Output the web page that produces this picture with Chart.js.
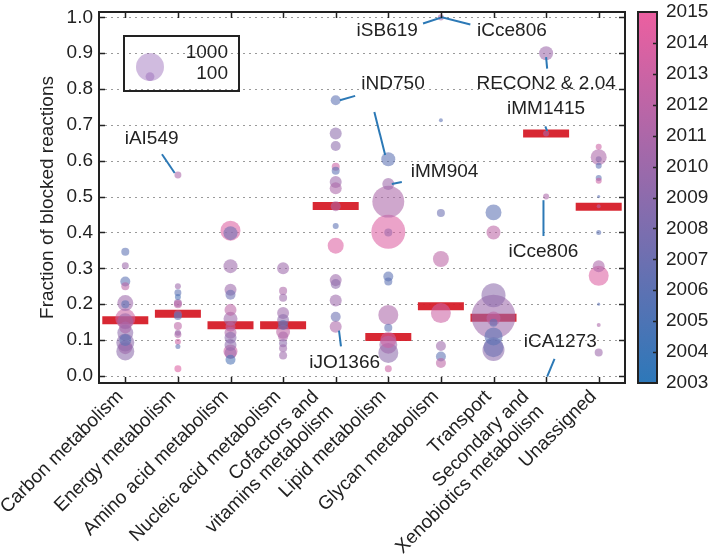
<!DOCTYPE html>
<html><head><meta charset="utf-8">
<script src="https://cdn.jsdelivr.net/npm/chart.js@4.4.1/dist/chart.umd.min.js"></script>
<style>html,body{margin:0;padding:0;background:#fff}canvas{display:block}</style>
</head><body>
<canvas id="c" width="708" height="557"></canvas>
<script>
// ---------- data ----------
const CATEGORIES = [
  ['Carbon metabolism'], ['Energy metabolism'], ['Amino acid metabolism'],
  ['Nucleic acid metabolism'], ['Cofactors and', 'vitamins metabolism'],
  ['Lipid metabolism'], ['Glycan metabolism'], ['Transport'],
  ['Secondary and', 'Xenobiotics metabolism'], ['Unassigned']
];
const Y_TICKS = [0.0, 0.1, 0.2, 0.3, 0.4, 0.5, 0.6, 0.7, 0.8, 0.9, 1.0];
const YEAR_TICKS = [2003, 2004, 2005, 2006, 2007, 2008, 2009, 2010, 2011, 2012, 2013, 2014, 2015];
const MEDIANS = [0.155, 0.173, 0.141, 0.141, 0.474, 0.108, 0.194, 0.162, 0.676, 0.472];
const LEGEND_SIZES = [1000, 100];

// fraction of blocked reactions, number of reactions, publication year
const carbonFrac = [0.346, 0.307, 0.263, 0.250, 0.203, 0.200, 0.160, 0.152, 0.135, 0.120, 0.100, 0.093, 0.080, 0.068];
const carbonRxn  = [82, 62, 128, 82, 326, 82, 510, 326, 184, 326, 184, 413, 250, 413];
const carbonYear = [2006, 2010, 2006, 2012, 2010, 2006, 2013, 2010, 2011, 2009, 2006, 2009, 2010, 2009];

const energyFrac = [0.560, 0.250, 0.232, 0.220, 0.203, 0.200, 0.172, 0.167, 0.139, 0.120, 0.115, 0.095, 0.082, 0.020];
const energyRxn  = [62, 46, 62, 46, 82, 82, 82, 82, 82, 46, 62, 46, 32, 62];
const energyYear = [2011, 2010, 2006, 2005, 2010, 2012, 2010, 2006, 2012, 2010, 2011, 2013, 2006, 2014];

const aminoFrac = [0.405, 0.398, 0.306, 0.240, 0.226, 0.184, 0.159, 0.137, 0.120, 0.106, 0.086, 0.068, 0.064, 0.045];
const aminoRxn  = [510, 250, 250, 184, 128, 184, 250, 128, 184, 184, 184, 250, 184, 128];
const aminoYear = [2014, 2007, 2010, 2010, 2007, 2012, 2010, 2012, 2011, 2009, 2009, 2013, 2010, 2005];

const nucleicFrac = [0.300, 0.237, 0.218, 0.175, 0.156, 0.142, 0.123, 0.110, 0.091, 0.077, 0.057];
const nucleicRxn  = [184, 82, 82, 184, 184, 128, 250, 128, 82, 82, 82];
const nucleicYear = [2010, 2011, 2010, 2010, 2009, 2006, 2012, 2011, 2009, 2010, 2010];

const cofactorFrac = [0.769, 0.676, 0.641, 0.583, 0.572, 0.541, 0.523, 0.473, 0.418, 0.363, 0.267, 0.256, 0.210, 0.165, 0.137];
const cofactorRxn  = [128, 184, 128, 82, 82, 184, 184, 128, 46, 326, 184, 128, 184, 128, 184];
const cofactorYear = [2006, 2009, 2009, 2013, 2006, 2010, 2011, 2011, 2006, 2014, 2010, 2009, 2010, 2007, 2011];

const lipidFrac = [0.604, 0.535, 0.486, 0.402, 0.400, 0.277, 0.263, 0.170, 0.134, 0.100, 0.087, 0.064, 0.020];
const lipidRxn  = [250, 184, 1300, 1475, 82, 128, 82, 510, 82, 326, 413, 510, 62];
const lipidYear = [2006, 2010, 2011, 2014, 2010, 2006, 2006, 2011, 2006, 2013, 2010, 2009, 2013];

const glycanFrac = [1.000, 0.713, 0.454, 0.326, 0.175, 0.083, 0.054, 0.036];
const glycanRxn  = [46, 20, 82, 326, 510, 128, 128, 128];
const glycanYear = [2011, 2006, 2007, 2012, 2013, 2010, 2006, 2012];

const transportFrac = [0.456, 0.400, 0.225, 0.165, 0.160, 0.148, 0.110, 0.080, 0.072];
const transportRxn  = [326, 250, 735, 2470, 250, 82, 413, 510, 617];
const transportYear = [2006, 2012, 2009, 2010, 2012, 2006, 2006, 2007, 2009];

const secondaryFrac = [0.900, 0.676, 0.500];
const secondaryRxn  = [250, 46, 46];
const secondaryYear = [2010, 2011, 2011];

const unassignedFrac = [0.639, 0.610, 0.604, 0.586, 0.552, 0.544, 0.500, 0.473, 0.400, 0.306, 0.279, 0.200, 0.142, 0.065];
const unassignedRxn  = [46, 326, 46, 46, 46, 46, 12, 20, 32, 184, 510, 12, 20, 82];
const unassignedYear = [2013, 2011, 2009, 2006, 2006, 2013, 2006, 2012, 2006, 2011, 2014, 2006, 2011, 2010];

const SERIES = [
  [carbonFrac, carbonRxn, carbonYear],
  [energyFrac, energyRxn, energyYear],
  [aminoFrac, aminoRxn, aminoYear],
  [nucleicFrac, nucleicRxn, nucleicYear],
  [cofactorFrac, cofactorRxn, cofactorYear],
  [lipidFrac, lipidRxn, lipidYear],
  [glycanFrac, glycanRxn, glycanYear],
  [transportFrac, transportRxn, transportYear],
  [secondaryFrac, secondaryRxn, secondaryYear],
  [unassignedFrac, unassignedRxn, unassignedYear]
];

// annotations: label position and pointer paths in data units (category index, fraction)
const ANNOTATIONS = [
  {label: 'iAI549', at: [0.50, 0.662], path: [[0.697, 0.618], [0.939, 0.566]]},
  {label: 'iND750', at: [5.09, 0.815], path: [[4.37, 0.781], [4.08, 0.769]]},
  {label: null, path: [[4.735, 0.736], [4.94, 0.616]]},
  {label: 'iMM904', at: [6.07, 0.568], path: [[5.257, 0.541], [5.067, 0.535]]},
  {label: 'iSB619', at: [4.98, 0.964], path: [[5.66, 0.983], [6.02, 1.0], [6.56, 0.98]]},
  {label: 'iCce806', at: [7.35, 0.964]},
  {label: 'RECON2 & 2.04', at: [8.0, 0.815], path: [[8.0, 0.889], [8.02, 0.857]]},
  {label: 'iMM1415', at: [8.0, 0.746], path: [[7.985, 0.696], [8.02, 0.683]]},
  {label: 'iCce806', at: [7.95, 0.346], path: [[7.95, 0.49], [7.95, 0.39]]},
  {label: 'iJO1366', at: [4.17, 0.037], path: [[4.063, 0.126], [4.10, 0.082]]},
  {label: 'iCA1273', at: [8.27, 0.096], path: [[8.16, 0.047], [8.02, -0.002]]}
];

// ---------- styling helpers ----------
const FONT = '"Liberation Sans", Arial, Helvetica, sans-serif';
const TEXT = '#222';
const BLUE = [45, 120, 185], PINK = [236, 95, 160];
function yearColor(y, a) {
  const t = Math.max(0, Math.min(1, (y - 2003) / 12));
  const c = BLUE.map((b, k) => Math.round(b + (PINK[k] - b) * t));
  return `rgba(${c[0]},${c[1]},${c[2]},${a})`;
}
function radiusOf(n) { return 14 * Math.sqrt(n / 1000); }

const bubbles = [];
SERIES.forEach(([fr, rx, yr], i) => {
  fr.forEach((f, j) => bubbles.push({x: i, y: f, r: radiusOf(rx[j]), year: yr[j]}));
});
bubbles.sort((a, b) => b.r - a.r);

const decor = {
  id: 'decor',
  beforeDatasetsDraw(chart) {
    const {ctx, chartArea: a, scales: {y}} = chart;
    ctx.save();
    ctx.strokeStyle = '#9a9a9a';
    ctx.lineWidth = 1;
    ctx.setLineDash([2, 4]);
    Y_TICKS.forEach(v => {
      const py = Math.round(y.getPixelForValue(v)) + 0.5;
      ctx.beginPath(); ctx.moveTo(a.left, py); ctx.lineTo(a.right, py); ctx.stroke();
    });
    ctx.restore();
  },
  afterDatasetsDraw(chart) {
    const {ctx, chartArea: a, scales: {x, y, yc}} = chart;
    ctx.save();
    // annotations
    ctx.strokeStyle = '#2c79b6';
    ctx.lineWidth = 2;
    ANNOTATIONS.forEach(an => {
      if (an.path) {
        ctx.beginPath();
        an.path.forEach(([px, py], k) => {
          const X = x.getPixelForValue(px), Y = y.getPixelForValue(py);
          k ? ctx.lineTo(X, Y) : ctx.moveTo(X, Y);
        });
        ctx.stroke();
      }
    });
    ctx.fillStyle = TEXT;
    ctx.font = '19px ' + FONT;
    ctx.textAlign = 'center';
    ctx.textBaseline = 'middle';
    ANNOTATIONS.forEach(an => {
      if (an.label) ctx.fillText(an.label, x.getPixelForValue(an.at[0]), y.getPixelForValue(an.at[1]));
    });
    // frame
    ctx.strokeStyle = '#222';
    ctx.lineWidth = 2;
    ctx.strokeRect(a.left, a.top, a.right - a.left, a.bottom - a.top);
    // inward ticks
    ctx.lineWidth = 1.5;
    ctx.beginPath();
    CATEGORIES.forEach((_, i) => {
      const px = Math.round(x.getPixelForValue(i)) + 0.5;
      ctx.moveTo(px, a.bottom); ctx.lineTo(px, a.bottom - 6);
      ctx.moveTo(px, a.top); ctx.lineTo(px, a.top + 6);
    });
    Y_TICKS.forEach(v => {
      const py = Math.round(y.getPixelForValue(v)) + 0.5;
      ctx.moveTo(a.left, py); ctx.lineTo(a.left + 6, py);
      ctx.moveTo(a.right, py); ctx.lineTo(a.right - 6, py);
    });
    ctx.stroke();
    // size legend
    const lx = a.left + 25, ly = a.top + 24, lw = 115, lh = 55;
    const cx = lx + 26, base = ly + 45;
    ctx.fillStyle = 'rgba(150,105,185,0.45)';
    LEGEND_SIZES.forEach(n => {
      const r = radiusOf(n);
      ctx.beginPath(); ctx.arc(cx, base - r, r, 0, Math.PI * 2); ctx.fill();
    });
    ctx.strokeStyle = '#222';
    ctx.lineWidth = 2;
    ctx.strokeRect(lx, ly, lw, lh);
    ctx.fillStyle = TEXT;
    ctx.textAlign = 'right';
    ctx.textBaseline = 'middle';
    ctx.fillText(String(LEGEND_SIZES[0]), lx + 104, ly + 17);
    ctx.fillText(String(LEGEND_SIZES[1]), lx + 104, ly + 38);
    // colorbar
    const bx = a.right + 13, bw = 19;
    const top = yc.getPixelForValue(YEAR_TICKS[YEAR_TICKS.length - 1]);
    const bot = yc.getPixelForValue(YEAR_TICKS[0]);
    const g = ctx.createLinearGradient(0, bot, 0, top);
    g.addColorStop(0, yearColor(YEAR_TICKS[0], 1));
    g.addColorStop(1, yearColor(YEAR_TICKS[YEAR_TICKS.length - 1], 1));
    ctx.fillStyle = g;
    ctx.fillRect(bx, top, bw, bot - top);
    ctx.lineWidth = 1.5;
    ctx.beginPath();
    YEAR_TICKS.slice(1, -1).forEach(v => {
      const py = Math.round(yc.getPixelForValue(v)) + 0.5;
      ctx.moveTo(bx + bw, py); ctx.lineTo(bx + bw - 4, py);
    });
    ctx.stroke();
    ctx.lineWidth = 2;
    ctx.strokeRect(bx, top, bw, bot - top);
    ctx.fillStyle = TEXT;
    ctx.textAlign = 'left';
    ctx.textBaseline = 'middle';
    YEAR_TICKS.forEach(v => ctx.fillText(String(v), bx + bw + 9, yc.getPixelForValue(v)));
    // rotated category labels
    ctx.textAlign = 'right';
    ctx.textBaseline = 'top';
    const L = 21, c45 = Math.SQRT1_2;
    CATEGORIES.forEach((lines, i) => {
      const H = lines.length * L;
      const px = x.getPixelForValue(i) - c45 * H + 3;
      const py = a.bottom + 4;
      ctx.save();
      ctx.translate(px, py);
      ctx.rotate(-Math.PI / 4);
      lines.forEach((t, k) => ctx.fillText(t, 0, k * L));
      ctx.restore();
    });
    ctx.restore();
  }
};

Chart.defaults.font.family = FONT;
Chart.defaults.font.size = 19;
Chart.defaults.color = TEXT;

const noPad = s => { s.paddingTop = 0; s.paddingBottom = 0; };

new Chart(document.getElementById('c'), {
  type: 'bubble',
  data: {
    datasets: [
      {
        data: bubbles,
        backgroundColor: c => yearColor(c.raw ? c.raw.year : 2009, 0.58),
        borderWidth: 0,
        hoverBorderWidth: 0
      },
      {
        type: 'scatter',
        data: MEDIANS.map((m, i) => ({x: i, y: m})),
        pointStyle: 'line',
        pointRadius: 23,
        pointHoverRadius: 23,
        borderWidth: 8,
        borderColor: 'rgba(214,28,40,0.95)',
        backgroundColor: 'rgba(214,28,40,0.95)'
      }
    ]
  },
  options: {
    responsive: false,
    animation: false,
    devicePixelRatio: 1,
    events: [],
    layout: {autoPadding: false, padding: {left: 32, top: 12, right: 0, bottom: 0}},
    plugins: {legend: {display: false}, tooltip: {enabled: false}},
    scales: {
      x: {
        type: 'linear', min: -0.5, max: 9.5,
        afterBuildTicks: s => { s.ticks = CATEGORIES.map((_, i) => ({value: i})); },
        afterFit: s => { s.height = 174; s.paddingLeft = 0; s.paddingRight = 0; },
        ticks: {display: false},
        grid: {display: false},
        border: {display: false}
      },
      y: {
        type: 'linear', min: -0.02, max: 1.015,
        afterBuildTicks: s => { s.ticks = Y_TICKS.map(v => ({value: v})); },
        afterFit: s => { s.width = 67; noPad(s); },
        ticks: {padding: 6, callback: v => v.toFixed(1), font: {size: 19}},
        grid: {display: false, drawTicks: false},
        border: {display: false},
        title: {display: true, text: 'Fraction of blocked reactions', font: {size: 19}, padding: {top: 4, bottom: 4}}
      },
      yc: {
        axis: 'y', type: 'linear', position: 'right', min: 2003, max: 2015,
        afterBuildTicks: s => { s.ticks = YEAR_TICKS.map(v => ({value: v})); },
        afterFit: s => { s.width = 83; noPad(s); },
        ticks: {display: false},
        grid: {display: false, drawTicks: false},
        border: {display: false}
      }
    }
  },
  plugins: [decor]
});
</script>
</body></html>
